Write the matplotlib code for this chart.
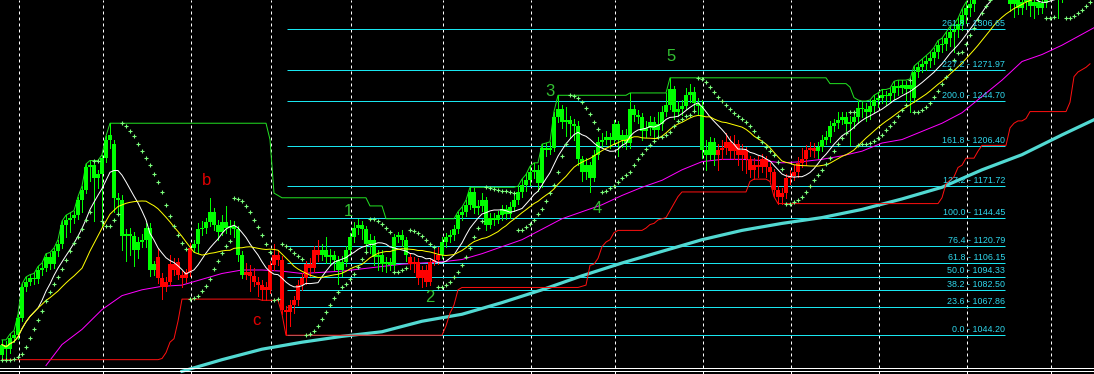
import numpy as np
import pandas as pd
import matplotlib
matplotlib.use('Agg')
import matplotlib.pyplot as plt
from matplotlib.lines import Line2D

# daily candles, one entry per bar (prices)
opens = [
    1027, 1036, 1032, 1042, 1044, 1059, 1085, 1090, 1093, 1092,
    1100, 1102, 1111, 1105, 1116, 1122, 1139, 1143, 1145, 1147,
    1160, 1169, 1188, 1190, 1179, 1182, 1196, 1212, 1208, 1162,
    1160, 1129, 1131, 1129, 1117, 1124, 1126, 1136, 1100, 1111,
    1093, 1085, 1090, 1105, 1107, 1096, 1093, 1098, 1119, 1122,
    1135, 1136, 1141, 1150, 1139, 1133, 1141, 1136, 1138, 1135,
    1113, 1096, 1098, 1095, 1090, 1087, 1083, 1083, 1104, 1113,
    1109, 1066, 1064, 1070, 1074, 1087, 1093, 1105, 1102, 1117,
    1113, 1117, 1111, 1113, 1109, 1100, 1107, 1117, 1128, 1136,
    1139, 1135, 1122, 1126, 1111, 1113, 1105, 1107, 1104, 1128,
    1130, 1126, 1111, 1105, 1107, 1093, 1100, 1090, 1107, 1109,
    1113, 1124, 1128, 1130, 1135, 1147, 1150, 1156, 1167, 1153,
    1155, 1160, 1139, 1145, 1143, 1147, 1152, 1148, 1154, 1160,
    1167, 1173, 1177, 1184, 1186, 1175, 1205, 1203, 1205, 1231,
    1238, 1227, 1229, 1225, 1224, 1195, 1184, 1190, 1179, 1199,
    1210, 1212, 1214, 1212, 1225, 1212, 1216, 1209, 1238, 1233,
    1231, 1219, 1222, 1227, 1220, 1225, 1236, 1242, 1255, 1236,
    1238, 1241, 1250, 1253, 1243, 1241, 1203, 1199, 1210, 1199,
    1203, 1205, 1210, 1202, 1208, 1199, 1203, 1195, 1186, 1190,
    1188, 1195, 1188, 1184, 1169, 1163, 1166, 1179, 1181, 1184,
    1192, 1195, 1203, 1205, 1202, 1206, 1212, 1214, 1224, 1226,
    1229, 1231, 1225, 1227, 1231, 1239, 1238, 1236, 1241, 1246,
    1248, 1250, 1249, 1252, 1258, 1256, 1259, 1255, 1248, 1270,
    1274, 1277, 1279, 1282, 1287, 1293, 1294, 1299, 1304, 1306,
    1311, 1319, 1325, 1328, 1335, 1341, 1345, 1349, 1345, 1351,
    1347, 1341, 1336, 1328, 1332, 1325, 1330, 1336, 1327, 1330,
    1325, 1329, 1336, 1339, 1342, 1335, 1341, 1345, 1348, 1350,
    1352, 1355, 1353]
highs = [
    1040, 1039, 1045, 1048, 1062, 1088, 1094, 1096, 1097, 1103,
    1106, 1114, 1115, 1119, 1126, 1142, 1147, 1149, 1151, 1163,
    1172, 1191, 1194, 1193, 1186, 1199, 1215, 1226, 1212, 1166,
    1164, 1135, 1136, 1133, 1128, 1131, 1140, 1140, 1108, 1118,
    1097, 1094, 1113, 1110, 1110, 1099, 1101, 1123, 1126, 1140,
    1142, 1145, 1162, 1153, 1143, 1147, 1155, 1143, 1142, 1138,
    1116, 1106, 1104, 1102, 1094, 1091, 1090, 1108, 1122, 1117,
    1112, 1069, 1074, 1078, 1091, 1097, 1108, 1110, 1121, 1126,
    1122, 1128, 1118, 1116, 1112, 1112, 1121, 1132, 1141, 1144,
    1142, 1138, 1131, 1129, 1117, 1117, 1111, 1110, 1131, 1133,
    1134, 1128, 1114, 1111, 1110, 1103, 1104, 1110, 1117, 1120,
    1128, 1132, 1134, 1139, 1150, 1154, 1160, 1171, 1170, 1160,
    1166, 1163, 1149, 1149, 1151, 1156, 1156, 1158, 1164, 1172,
    1178, 1182, 1189, 1192, 1190, 1208, 1209, 1210, 1236, 1250,
    1242, 1240, 1232, 1230, 1228, 1198, 1196, 1193, 1203, 1214,
    1218, 1219, 1218, 1229, 1228, 1220, 1221, 1252, 1242, 1237,
    1235, 1228, 1232, 1231, 1236, 1241, 1252, 1265, 1258, 1245,
    1246, 1256, 1260, 1257, 1248, 1246, 1212, 1214, 1213, 1208,
    1212, 1218, 1215, 1216, 1212, 1208, 1206, 1198, 1196, 1198,
    1200, 1198, 1192, 1187, 1172, 1170, 1182, 1186, 1190, 1197,
    1205, 1207, 1210, 1209, 1210, 1216, 1219, 1228, 1230, 1236,
    1236, 1236, 1232, 1235, 1245, 1244, 1243, 1246, 1250, 1252,
    1255, 1254, 1256, 1262, 1263, 1263, 1262, 1264, 1275, 1278,
    1281, 1284, 1287, 1291, 1297, 1299, 1304, 1309, 1311, 1316,
    1324, 1330, 1334, 1340, 1346, 1350, 1354, 1353, 1356, 1355,
    1350, 1345, 1340, 1336, 1337, 1334, 1340, 1339, 1334, 1333,
    1334, 1340, 1344, 1347, 1346, 1345, 1349, 1352, 1355, 1357,
    1360, 1359, 1361]
lows = [
    1023, 1024, 1029, 1038, 1041, 1056, 1082, 1087, 1088, 1089,
    1096, 1099, 1101, 1102, 1112, 1119, 1128, 1133, 1140, 1144,
    1150, 1166, 1176, 1142, 1170, 1138, 1193, 1205, 1150, 1150,
    1117, 1108, 1113, 1103, 1110, 1120, 1120, 1095, 1096, 1089,
    1075, 1082, 1087, 1096, 1092, 1085, 1090, 1095, 1116, 1115,
    1130, 1132, 1138, 1134, 1126, 1130, 1132, 1131, 1128, 1108,
    1093, 1092, 1082, 1086, 1078, 1074, 1074, 1080, 1100, 1104,
    1062, 1044, 1052, 1063, 1070, 1083, 1088, 1095, 1098, 1108,
    1109, 1106, 1104, 1100, 1088, 1095, 1103, 1113, 1124, 1131,
    1127, 1117, 1115, 1104, 1100, 1099, 1098, 1100, 1101, 1124,
    1121, 1108, 1101, 1098, 1088, 1085, 1086, 1087, 1104, 1105,
    1110, 1120, 1124, 1126, 1132, 1143, 1146, 1152, 1149, 1148,
    1151, 1134, 1136, 1139, 1140, 1143, 1144, 1145, 1151, 1157,
    1163, 1168, 1173, 1179, 1168, 1171, 1198, 1200, 1202, 1227,
    1222, 1215, 1214, 1212, 1190, 1176, 1178, 1167, 1176, 1195,
    1206, 1208, 1205, 1208, 1198, 1206, 1204, 1205, 1228, 1226,
    1212, 1214, 1216, 1214, 1216, 1220, 1232, 1238, 1230, 1232,
    1233, 1238, 1244, 1238, 1234, 1196, 1186, 1195, 1190, 1186,
    1195, 1200, 1196, 1195, 1190, 1186, 1183, 1180, 1178, 1180,
    1184, 1180, 1176, 1163, 1157, 1157, 1162, 1174, 1177, 1180,
    1188, 1190, 1198, 1197, 1196, 1202, 1208, 1210, 1219, 1222,
    1225, 1220, 1207, 1222, 1226, 1231, 1228, 1230, 1236, 1240,
    1243, 1242, 1244, 1247, 1250, 1252, 1245, 1236, 1244, 1266,
    1270, 1272, 1274, 1277, 1282, 1287, 1289, 1292, 1287, 1300,
    1306, 1312, 1318, 1322, 1334, 1336, 1340, 1340, 1341, 1342,
    1336, 1334, 1322, 1317, 1320, 1320, 1324, 1318, 1316, 1320,
    1321, 1326, 1332, 1334, 1316, 1330, 1336, 1339, 1342, 1345,
    1346, 1347, 1348]
closes = [
    1036, 1032, 1042, 1044, 1059, 1085, 1090, 1093, 1092, 1100,
    1102, 1111, 1105, 1116, 1122, 1139, 1143, 1145, 1147, 1160,
    1169, 1188, 1190, 1179, 1182, 1196, 1212, 1216, 1162, 1160,
    1129, 1131, 1129, 1117, 1124, 1126, 1136, 1100, 1105, 1093,
    1085, 1090, 1105, 1100, 1096, 1093, 1098, 1119, 1122, 1135,
    1136, 1141, 1150, 1139, 1133, 1141, 1136, 1138, 1135, 1113,
    1096, 1098, 1095, 1090, 1087, 1083, 1085, 1104, 1113, 1109,
    1066, 1064, 1070, 1074, 1087, 1093, 1105, 1102, 1117, 1113,
    1117, 1111, 1113, 1109, 1100, 1107, 1117, 1128, 1136, 1139,
    1135, 1122, 1126, 1111, 1113, 1105, 1107, 1104, 1128, 1130,
    1126, 1113, 1105, 1107, 1093, 1100, 1090, 1107, 1109, 1113,
    1124, 1128, 1130, 1135, 1147, 1150, 1156, 1167, 1153, 1155,
    1160, 1139, 1145, 1143, 1147, 1152, 1148, 1154, 1160, 1167,
    1173, 1177, 1184, 1186, 1175, 1205, 1203, 1205, 1231, 1238,
    1227, 1229, 1225, 1224, 1195, 1184, 1190, 1179, 1199, 1210,
    1212, 1214, 1212, 1225, 1212, 1216, 1209, 1238, 1233, 1231,
    1219, 1222, 1227, 1220, 1225, 1236, 1242, 1255, 1236, 1238,
    1241, 1250, 1253, 1243, 1241, 1203, 1199, 1210, 1199, 1203,
    1205, 1210, 1202, 1208, 1199, 1203, 1195, 1186, 1190, 1188,
    1195, 1188, 1184, 1169, 1163, 1166, 1179, 1181, 1184, 1192,
    1195, 1203, 1205, 1202, 1206, 1212, 1214, 1224, 1226, 1229,
    1231, 1225, 1227, 1231, 1239, 1238, 1236, 1241, 1246, 1248,
    1250, 1249, 1252, 1258, 1256, 1259, 1255, 1259, 1270, 1274,
    1277, 1279, 1282, 1287, 1293, 1294, 1299, 1304, 1306, 1311,
    1319, 1325, 1328, 1333, 1341, 1345, 1349, 1345, 1351, 1347,
    1341, 1336, 1328, 1332, 1325, 1330, 1336, 1327, 1330, 1325,
    1329, 1336, 1339, 1342, 1335, 1341, 1345, 1348, 1350, 1352,
    1355, 1353, 1356]

# bars painted red by the trend filter (first, last)
red_runs = [(39, 47), (61, 79), (102, 109), (179, 203)]

# long moving averages
mid_ma_bars = [11, 15, 20, 25, 30, 35, 40, 45, 50, 55, 60, 65, 70, 75, 80, 85, 90, 95,
               100, 105, 110, 115, 120, 125, 130, 135, 140, 145, 150, 155, 160, 165,
               170, 175, 180, 185, 190, 195, 200, 205, 210, 215, 220, 225, 230, 235,
               240, 245, 250, 255, 260, 265, 273]
mid_ma = [1018, 1036, 1049, 1066, 1078, 1083, 1086, 1087, 1092, 1097, 1100, 1100, 1099,
          1097, 1098, 1099, 1101, 1103, 1105, 1106, 1107, 1109, 1114, 1120, 1126, 1135,
          1144, 1150, 1156, 1164, 1171, 1177, 1186, 1193, 1195, 1195, 1194, 1192, 1193,
          1195, 1198, 1202, 1209, 1212, 1219, 1226, 1235, 1249, 1263, 1279, 1285, 1293, 1308]
slow_ma_bars = [45, 55, 65, 75, 85, 95, 105, 115, 125, 135, 145, 155, 165, 175, 185,
                195, 205, 215, 225, 235, 245, 255, 265, 273]
slow_ma = [1013, 1023, 1032, 1038, 1043, 1047, 1056, 1062, 1072, 1083, 1095, 1106, 1116,
           1126, 1134, 1140, 1145, 1152, 1161, 1171, 1186, 1199, 1216, 1229]

# fibonacci expansion
fib_ratios = [0.0, 23.6, 38.2, 50.0, 61.8, 76.4, 100.0, 127.2, 161.8, 200.0, 227.2, 261.8]
fib_prices = [1044.20, 1067.86, 1082.50, 1094.33, 1106.15, 1120.79, 1144.45, 1171.72,
              1206.40, 1244.70, 1271.97, 1306.65]
fib_from, fib_to = 71.25, 250.75

# month separators (bar index)
month_bars = [4, 25, 47, 67, 87, 110, 132, 153, 175, 197, 219, 241, 262]

# elliott wave marks: text, bar, price
green_waves = [('1', 86.5, 1150), ('2', 107, 1076), ('3', 137, 1253),
               ('4', 148.7, 1153), ('5', 167.2, 1283)]
red_waves = [('b', 51.2, 1177), ('c', 63.5, 1057)]


def psar(hi, lo, step=0.02, top=0.2):
    n = len(hi)
    out = np.zeros(n)
    up, af, ep = True, step, hi[0]
    out[0] = lo[0]
    for i in range(1, n):
        s = out[i - 1] + af * (ep - out[i - 1])
        if up:
            s = min(s, lo[i - 1], lo[max(i - 2, 0)])
            if lo[i] < s:
                up, s, ep, af = False, ep, lo[i], step
            elif hi[i] > ep:
                ep, af = hi[i], min(af + step, top)
        else:
            s = max(s, hi[i - 1], hi[max(i - 2, 0)])
            if hi[i] > s:
                up, s, ep, af = True, ep, hi[i], step
            elif lo[i] < ep:
                ep, af = lo[i], min(af + step, top)
        out[i] = s
    return out


o = np.array(opens, float)
h = np.array(highs, float)
l = np.array(lows, float)
c = np.array(closes, float)
idx = np.arange(len(c))
cols = np.array(['#00FF00'] * len(c), dtype=object)
for a, b in red_runs:
    cols[a:b + 1] = '#FF0000'

PX = 0.72  # one pixel in points
fig = plt.figure(figsize=(10.94, 3.74), dpi=100, facecolor='black')
ax = fig.add_axes([0, 0, 1, 1])
ax.set_facecolor('black')
ax.set_axis_off()
ax.set_xlim(-0.5, 273)   # 4 px per bar
ax.set_ylim(1010.7, 1331.8)

for m in month_bars:
    ax.axvline(m + 0.25, color='white', lw=PX, ls=(0, (3, 3)), zorder=1)

for r, p in zip(fib_ratios, fib_prices):
    ax.hlines(p, fib_from, fib_to, color='#19E6F0', lw=PX, zorder=2)
    ax.annotate(f'{r:.1f} - {p:.2f}', (fib_to, p), xytext=(0, 0.8), textcoords='offset points',
                ha='right', va='bottom', color='#2FD8EE', fontsize=6.4,
                family='Liberation Sans', zorder=7)

ax.plot(slow_ma_bars, slow_ma, color='#52D9D2', lw=2.3, zorder=3)
ax.plot(mid_ma_bars, mid_ma, color='#FF00FF', lw=PX, zorder=3)

upper = pd.Series(h).rolling(40, min_periods=1).max()
lower = pd.Series(l).rolling(40, min_periods=1).min()
ax.plot(idx, upper, color='#22E022', lw=PX, zorder=3)
ax.plot(idx, lower, color='#FF1010', lw=PX, zorder=3)

# candles
ax.vlines(idx, l, h, colors=cols, lw=PX, zorder=4, antialiased=False)
ax.bar(idx, np.maximum(np.abs(c - o), 1.0), bottom=np.minimum(o, c), width=0.9,
       color=cols, linewidth=0, zorder=4, antialiased=False)

fast = pd.Series(c).rolling(10, min_periods=1).mean()
slow = pd.Series(c).rolling(21, min_periods=1).mean()
ax.plot(idx, fast, color='white', lw=PX, zorder=5)
ax.plot(idx, slow, color='#FFFF00', lw=PX, zorder=5)

ax.plot(idx, psar(h, l), ls='none', marker='+', ms=3.0, mew=0.8, color='#7CFF7C', zorder=6)

for t, x, y in green_waves:
    ax.text(x, y, t, color='#33C033', fontsize=12, family='Liberation Sans',
            ha='center', va='center', zorder=7)
for t, x, y in red_waves:
    ax.text(x, y, t, color='#E00000', fontsize=12, family='Liberation Sans',
            ha='center', va='center', zorder=7)

for yy in (1 - 368 / 374, 1 - 370.5 / 374):
    fig.add_artist(Line2D([0, 1], [yy, yy], color='white', lw=PX, transform=fig.transFigure))

fig.savefig('out.png', dpi=100, facecolor='black')
